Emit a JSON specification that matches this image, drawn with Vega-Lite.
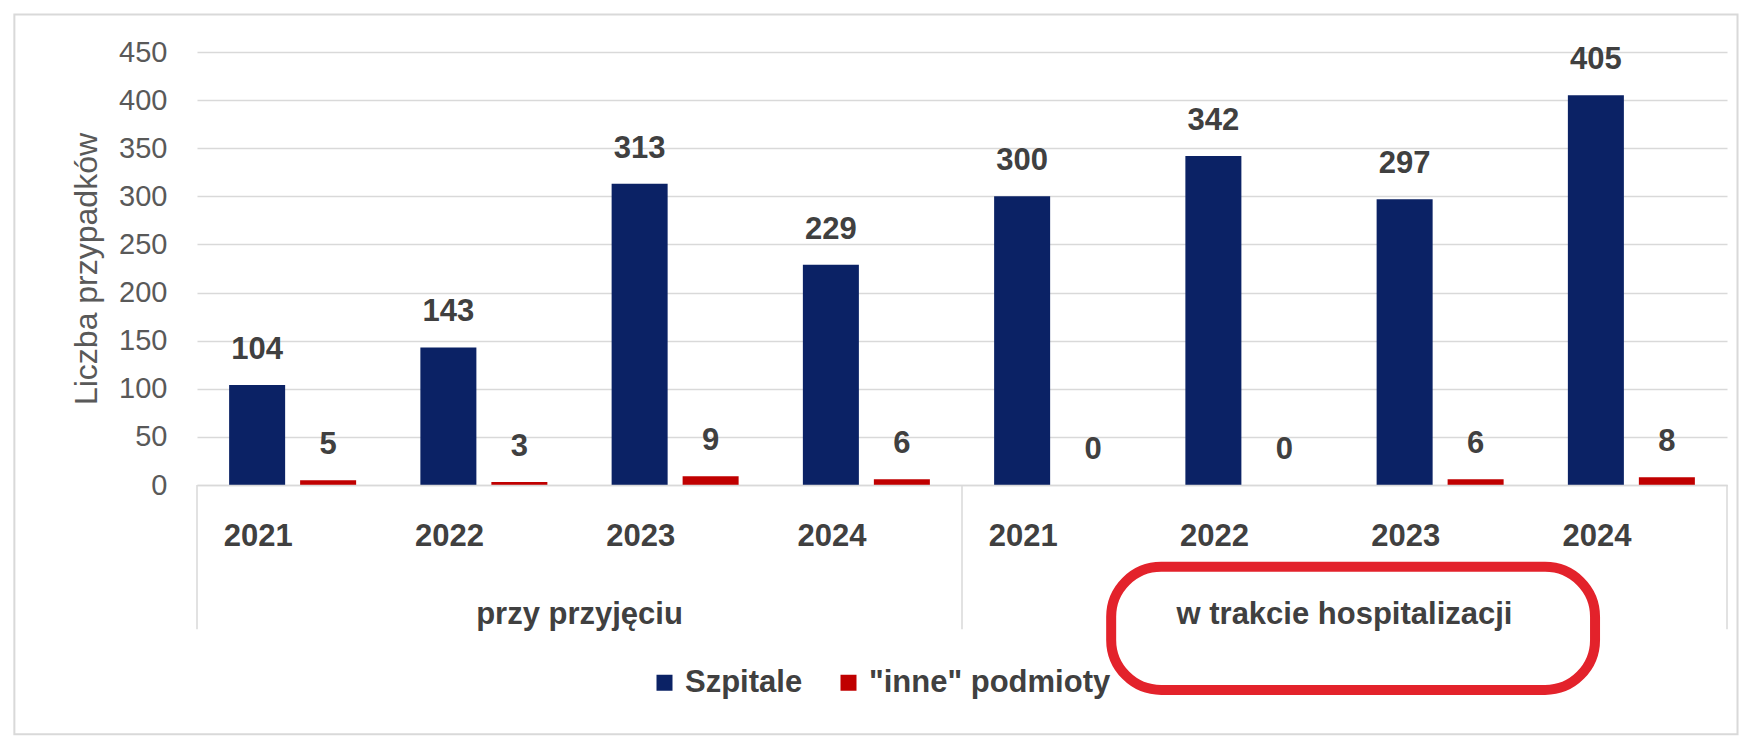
{
  "$schema": "https://vega.github.io/schema/vega-lite/v6.json",
  "width": 1530,
  "height": 433,
  "autosize": {"type": "none"},
  "padding": {"left": 197, "top": 52, "right": 32, "bottom": 256},
  "background": "white",
  "config": {"view": {"stroke": null}, "font": "Liberation Sans"},
  "datasets": {
    "main": [
      {"cat": "P 2021", "series": "Szpitale", "value": 104},
      {"cat": "P 2021", "series": "\"inne\" podmioty", "value": 5},
      {"cat": "P 2022", "series": "Szpitale", "value": 143},
      {"cat": "P 2022", "series": "\"inne\" podmioty", "value": 3},
      {"cat": "P 2023", "series": "Szpitale", "value": 313},
      {"cat": "P 2023", "series": "\"inne\" podmioty", "value": 9},
      {"cat": "P 2024", "series": "Szpitale", "value": 229},
      {"cat": "P 2024", "series": "\"inne\" podmioty", "value": 6},
      {"cat": "H 2021", "series": "Szpitale", "value": 300},
      {"cat": "H 2021", "series": "\"inne\" podmioty", "value": 0},
      {"cat": "H 2022", "series": "Szpitale", "value": 342},
      {"cat": "H 2022", "series": "\"inne\" podmioty", "value": 0},
      {"cat": "H 2023", "series": "Szpitale", "value": 297},
      {"cat": "H 2023", "series": "\"inne\" podmioty", "value": 6},
      {"cat": "H 2024", "series": "Szpitale", "value": 405},
      {"cat": "H 2024", "series": "\"inne\" podmioty", "value": 8}
    ],
    "groups": [
      {"cat": "P 2022", "grp": "przy przyjęciu"},
      {"cat": "H 2022", "grp": "w trakcie hospitalizacji"}
    ],
    "sepStart": [{"cat": "P 2021"}, {"cat": "H 2021"}],
    "sepEnd": [{"cat": "H 2024"}],
    "note": [{"from": "H 2021", "to": "H 2024"}],
    "frame": [{"from": "P 2021", "to": "H 2024"}]
  },
  "layer": [
    {
      "data": {"name": "frame"},
      "mark": {"type": "rect", "fill": null, "stroke": "#d9d9d9", "strokeWidth": 2},
      "encoding": {
        "x": {"field": "from", "type": "nominal", "bandPosition": -0.955},
        "x2": {"field": "to", "bandPosition": 1.055},
        "y": {"datum": 489},
        "y2": {"datum": -259}
      }
    },
    {
      "data": {"name": "main"},
      "mark": {"type": "bar"},
      "encoding": {
        "x": {
          "field": "cat", "type": "nominal",
          "scale": {"domain": ["P 2021", "P 2022", "P 2023", "P 2024", "H 2021", "H 2022", "H 2023", "H 2024"], "paddingInner": 0, "paddingOuter": 0},
          "axis": {
            "title": null, "labelExpr": "substring(datum.label, 2)", "labelAngle": 0,
            "labelFontSize": 31, "labelFontWeight": "bold", "labelColor": "#404040",
            "labelPadding": 51, "ticks": false, "domainColor": "#d9d9d9", "domainWidth": 1.5, "grid": false
          }
        },
        "xOffset": {
          "field": "series", "type": "nominal",
          "scale": {"domain": ["Szpitale", "\"inne\" podmioty"], "paddingInner": 0.211, "paddingOuter": 0.4525}
        },
        "y": {
          "field": "value", "type": "quantitative",
          "scale": {"domain": [0, 450], "nice": false},
          "axis": {
            "title": "Liczba przypadków", "titleFontSize": 32, "titleFontWeight": "normal", "titleColor": "#595959", "titlePadding": 15,
            "values": [0, 50, 100, 150, 200, 250, 300, 350, 400, 450],
            "labelFontSize": 29, "labelColor": "#595959", "labelPadding": 30,
            "ticks": false, "domain": false, "grid": true, "gridColor": "#d9d9d9", "gridWidth": 1.5
          }
        },
        "color": {
          "field": "series", "type": "nominal",
          "scale": {"domain": ["Szpitale", "\"inne\" podmioty"], "range": ["#0b2265", "#c00000"]},
          "legend": {
            "title": null, "orient": "none", "legendX": 452, "legendY": 615, "direction": "horizontal",
            "symbolType": "square", "symbolSize": 256, "symbolStrokeWidth": 0, "symbolOpacity": 1,
            "labelFontSize": 31, "labelFontWeight": "bold", "labelColor": "#404040", "labelOffset": 5,
            "columnPadding": 30, "labelLimit": 0
          }
        }
      }
    },
    {
      "data": {"name": "main"},
      "mark": {"type": "text", "baseline": "alphabetic", "dy": -26, "fontSize": 31, "fontWeight": "bold", "color": "#404040"},
      "encoding": {
        "x": {"field": "cat", "type": "nominal"},
        "xOffset": {"field": "series", "type": "nominal"},
        "y": {"field": "value", "type": "quantitative"},
        "text": {"field": "value", "type": "quantitative"}
      }
    },
    {
      "data": {"name": "groups"},
      "mark": {"type": "text", "baseline": "middle", "fontSize": 31, "fontWeight": "bold", "color": "#404040"},
      "encoding": {
        "x": {"field": "cat", "type": "nominal", "bandPosition": 1},
        "y": {"datum": -135},
        "text": {"field": "grp", "type": "nominal"}
      }
    },
    {
      "data": {"name": "sepStart"},
      "mark": {"type": "rule", "color": "#d9d9d9", "strokeWidth": 1.5},
      "encoding": {
        "x": {"field": "cat", "type": "nominal", "bandPosition": 0},
        "y": {"datum": 0},
        "y2": {"datum": -150}
      }
    },
    {
      "data": {"name": "sepEnd"},
      "mark": {"type": "rule", "color": "#d9d9d9", "strokeWidth": 1.5},
      "encoding": {
        "x": {"field": "cat", "type": "nominal", "bandPosition": 1},
        "y": {"datum": 0},
        "y2": {"datum": -150}
      }
    },
    {
      "data": {"name": "note"},
      "mark": {"type": "rect", "fill": null, "stroke": "#e3222b", "strokeWidth": 10, "cornerRadius": 50},
      "encoding": {
        "x": {"field": "from", "type": "nominal", "bandPosition": 0.78},
        "x2": {"field": "to", "bandPosition": 0.31},
        "y": {"datum": -85},
        "y2": {"datum": -213}
      }
    }
  ]
}
